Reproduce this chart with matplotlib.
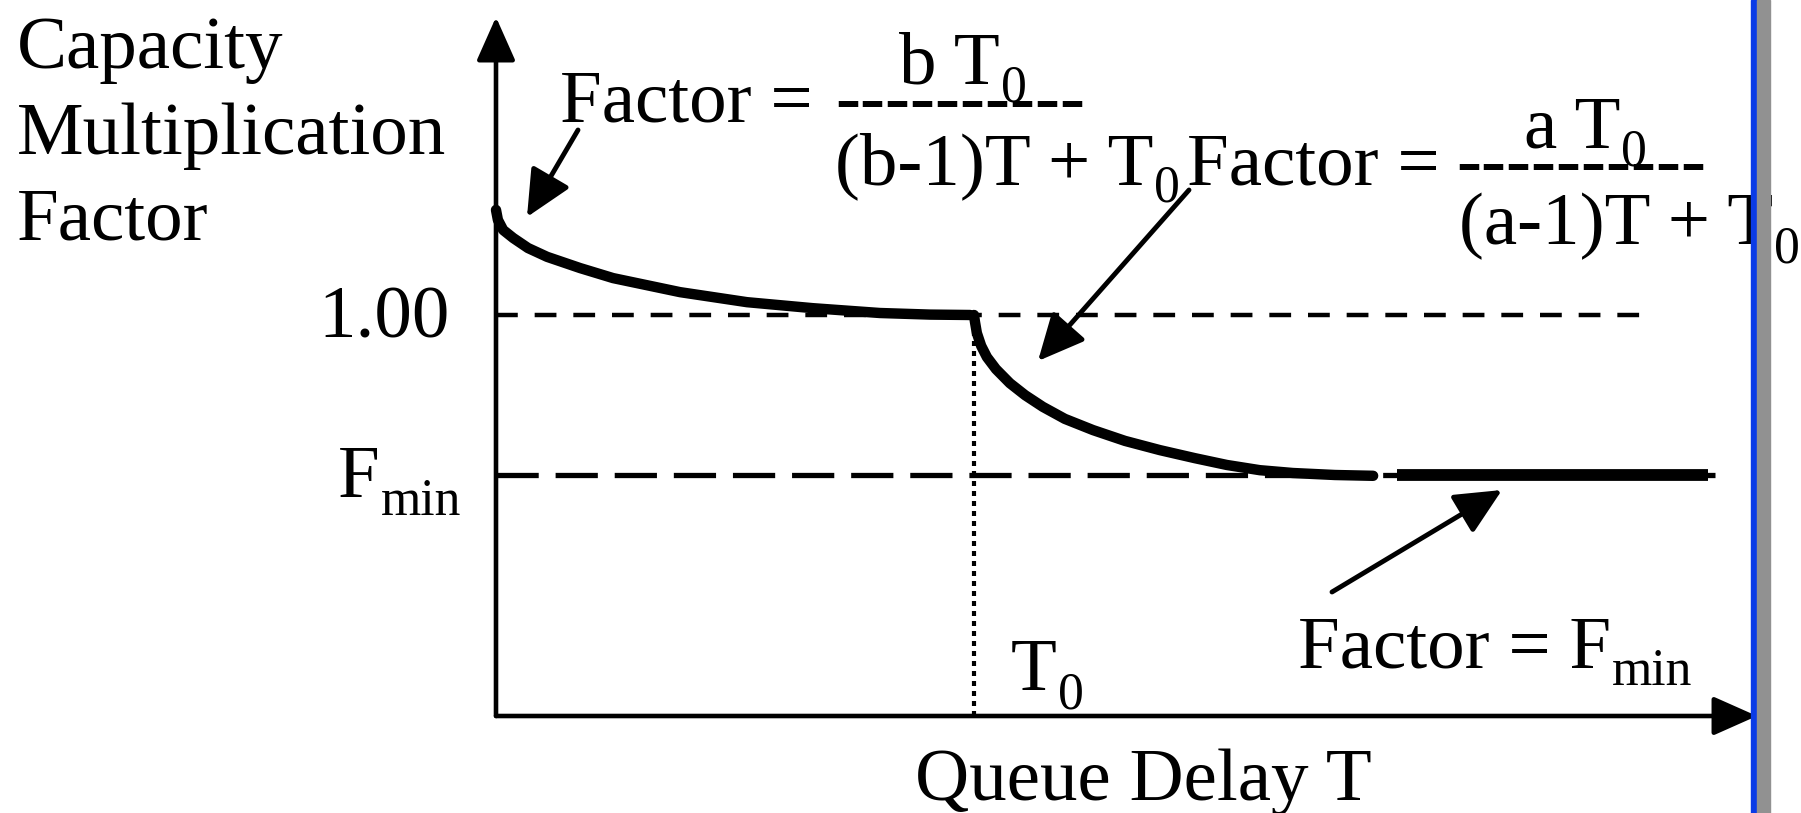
import matplotlib
matplotlib.use("Agg")
import matplotlib.pyplot as plt
from matplotlib.patches import Rectangle

plt.rcParams['font.family'] = ['Liberation Serif', 'DejaVu Serif']

# capacity factor for T < T0 (T in units of T0)
t_low = [0.000, 0.004, 0.015, 0.036, 0.067, 0.107, 0.176, 0.245, 0.385,
         0.525, 0.663, 0.803, 0.908, 0.992]
f_low = [1.262, 1.237, 1.212, 1.192, 1.167, 1.145, 1.117, 1.092, 1.057,
         1.032, 1.017, 1.005, 1.001, 1.000]

# capacity factor for T > T0
t_high = [1.000, 1.002, 1.006, 1.015, 1.027, 1.046, 1.075, 1.107, 1.144,
          1.190, 1.249, 1.316, 1.389, 1.462, 1.529, 1.598, 1.667, 1.755, 1.835]
f_high = [1.000, 0.983, 0.955, 0.923, 0.895, 0.865, 0.830, 0.800, 0.771,
          0.741, 0.713, 0.686, 0.663, 0.643, 0.626, 0.613, 0.606, 0.601, 0.599]

# floor at F_min
t_flat = [1.885, 2.535]
f_min = 0.601
t0 = 1.0
f_one = 1.0

# reference lines / axes extent
t_line_one_end = 2.42
t_line_min_end = 2.55
t_axis_end = 2.638
f_axis_end = 1.743

W, H = 1801, 813
FS = 54
SUB = 0.69 * FS

fig = plt.figure(figsize=(W / 100, H / 100), dpi=100)
fig.patch.set_facecolor('white')
ax = fig.add_axes([0, 0, 1, 1])
ax.set_axis_off()
# pixel 496 -> T=0, 478 px per T0 ; pixel 716 -> F=0, 401 px per unit
ax.set_xlim((0 - 496) / 478, (W - 496) / 478)
ax.set_ylim((716 - H) / 401, 716 / 401)

# dashed reference lines and dotted T0 marker
ax.plot([0, t_line_one_end], [f_one, f_one], color='k', lw=3.2,
        linestyle=(0, (4.9, 3.8)), dash_capstyle='butt')
ax.plot([0, t_line_min_end], [f_min, f_min], color='k', lw=3.8,
        linestyle=(0, (8.0, 3.2)), dash_capstyle='butt')
ax.plot([t0, t0], [0, f_one], color='k', lw=3,
        linestyle=(0, (1.2, 1.2)), dash_capstyle='butt')

# the factor curve
ax.plot(t_low, f_low, color='k', lw=7.5, solid_capstyle='round',
        solid_joinstyle='round')
ax.plot(t_high, f_high, color='k', lw=7.5, solid_capstyle='round',
        solid_joinstyle='round')
ax.plot(t_flat, [f_min, f_min], color='k', lw=8.5, solid_capstyle='butt')

# axes with arrow heads
head = dict(arrowstyle='-|>,head_length=0.9,head_width=0.4', color='k',
            lw=3.3, mutation_scale=30, shrinkA=0, shrinkB=0)
ax.annotate('', xy=(0, f_axis_end), xytext=(0, 0), arrowprops=head)
ax.annotate('', xy=(t_axis_end, 0), xytext=(0, 0), arrowprops=head)

renderer = fig.canvas.get_renderer()


def put(x, y, s, sub=None, **kw):
    t = fig.text(x / W, 1 - y / H, s, fontsize=FS, va='baseline', **kw)
    if sub:
        bb = t.get_window_extent(renderer)
        fig.text((bb.x1 + 1) / W, 1 - (y + 18) / H, sub, fontsize=SUB,
                 va='baseline')


def arrow(x0, y0, x1, y1):
    ann = dict(arrowstyle='-|>,head_length=0.95,head_width=0.45', color='k',
               lw=3.5, mutation_scale=30, shrinkA=0, shrinkB=0)
    ax.annotate('', xy=(x1, H - y1), xytext=(x0, H - y0),
                xycoords='figure pixels', textcoords='figure pixels',
                arrowprops=ann)


# y label
put(17, 68, 'Capacity')
put(17, 154, 'Multiplication')
put(17, 240, 'Factor')

put(450, 338, '1.00', ha='right')
put(338, 497, 'F', 'min')
put(1011, 690, 'T', '0')
put(915, 800, 'Queue Delay T')
put(1298, 667, 'Factor = F', 'min')

# formula for T < T0
put(560, 121, 'Factor =')
put(899, 84, 'b T', '0')
put(835, 122, '-' * 10)
put(835, 184, '(b-1)T + T', '0')

# formula for T > T0
put(1187, 184, 'Factor =')
put(1524, 148, 'a T', '0')
put(1456, 185, '-' * 10)
put(1459, 244, '(a-1)T + T', '0')

arrow(578, 130, 527, 217)
arrow(1189, 190, 1038, 361)
arrow(1332, 592, 1502, 490)

# slide border on the right
fig.patches.append(Rectangle((1751 / W, 0), 6 / W, 1, transform=fig.transFigure,
                             color='#0a3be6', zorder=5))
fig.patches.append(Rectangle((1757 / W, 0), 13 / W, 1, transform=fig.transFigure,
                             color='#919191', zorder=5))

fig.savefig('out.png', dpi=100, facecolor='white')
